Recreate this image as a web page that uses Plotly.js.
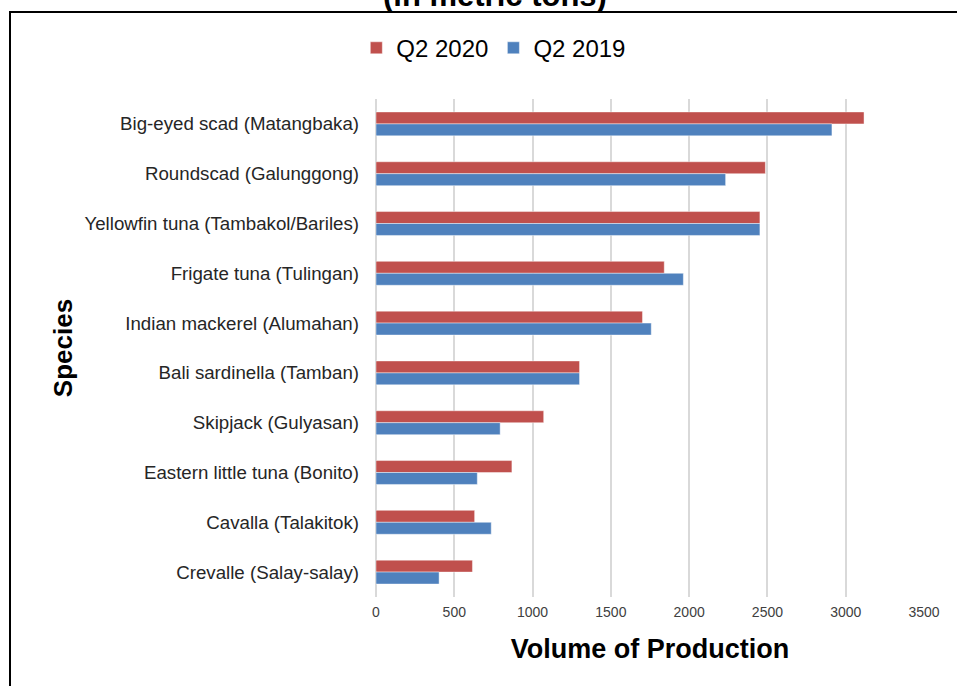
<!DOCTYPE html>
<html>
<head>
<meta charset="utf-8">
<script src="https://cdn.plot.ly/plotly-3.0.1.min.js"></script>
<style>
  html, body { margin: 0; padding: 0; background: #ffffff; }
  #chart { position: absolute; left: 0; top: 0; width: 957px; height: 686px; }
  #frame { position: absolute; left: 9px; top: 11px; width: 2000px; height: 2000px;
           border-left: 2px solid #000; border-top: 2px solid #000; pointer-events: none; }
  #wrap { position: relative; width: 957px; height: 686px; overflow: hidden; }
</style>
</head>
<body>
<div id="wrap">
  <div id="chart"></div>
  <div id="frame"></div>
</div>
<script>
const species = [
  "Big-eyed scad (Matangbaka)",
  "Roundscad (Galunggong)",
  "Yellowfin tuna (Tambakol/Bariles)",
  "Frigate tuna (Tulingan)",
  "Indian mackerel (Alumahan)",
  "Bali sardinella (Tamban)",
  "Skipjack (Gulyasan)",
  "Eastern little tuna (Bonito)",
  "Cavalla (Talakitok)",
  "Crevalle (Salay-salay)"
];
const q2_2020 = [3117, 2487, 2452, 1841, 1702, 1300, 1071, 868, 630, 616];
const q2_2019 = [2912, 2233, 2452, 1963, 1758, 1300, 793, 647, 736, 403];
const xTicks = [0, 500, 1000, 1500, 2000, 2500, 3000, 3500];

const traces = [
  {
    type: "bar", orientation: "h", name: "Q2 2020",
    y: species, x: q2_2020,
    marker: { color: "#C0504D", line: { color: "rgba(255,255,255,0.55)", width: 0.8 } },
    hoverinfo: "x+y"
  },
  {
    type: "bar", orientation: "h", name: "Q2 2019",
    y: species, x: q2_2019,
    marker: { color: "#4F81BD", line: { color: "rgba(255,255,255,0.55)", width: 0.8 } },
    hoverinfo: "x+y"
  }
];

const layout = {
  width: 957, height: 686,
  margin: { l: 376, r: 33, t: 99, b: 89, pad: 0 },
  paper_bgcolor: "#ffffff",
  plot_bgcolor: "#ffffff",
  font: { family: "Liberation Sans, Arial, sans-serif", color: "#404040" },
  barmode: "group",
  bargap: 0.52,
  bargroupgap: 0,
  showlegend: true,
  legend: {
    orientation: "h",
    x: 0.215, xanchor: "center",
    y: 1.102, yanchor: "middle", yref: "paper",
    font: { size: 24, color: "#000000", family: "Liberation Sans, Arial, sans-serif" },
    traceorder: "normal",
    itemwidth: 30,
    bgcolor: "rgba(0,0,0,0)"
  },
  xaxis: {
    range: [0, 3500],
    tickvals: xTicks,
    ticktext: xTicks.map(String),
    showgrid: true,
    gridcolor: "#D9D9D9",
    gridwidth: 2,
    zeroline: true,
    zerolinecolor: "#D9D9D9",
    zerolinewidth: 2,
    showline: false,
    ticks: "",
    ticklabelstandoff: 5,
    tickfont: { size: 14, color: "#404040" },
    title: { text: "<b>Volume of Production</b>", font: { size: 27, color: "#000000" }, standoff: 20 },
    fixedrange: true
  },
  yaxis: {
    type: "category",
    autorange: "reversed",
    showgrid: false,
    showline: false,
    zeroline: false,
    ticks: "",
    ticklabelstandoff: 16,
    tickfont: { size: 18.7, color: "#262626" },
    title: { text: "<b>Species</b>", font: { size: 26, color: "#000000" }, standoff: 4 },
    fixedrange: true
  },
  annotations: [
    {
      text: "<b>(in metric tons)</b>",
      xref: "paper", yref: "paper",
      x: 0.217, y: 1, xanchor: "center", yanchor: "middle",
      yshift: 104,
      showarrow: false,
      font: { size: 31, color: "#000000", family: "Liberation Sans, Arial, sans-serif" }
    }
  ]
};

Plotly.newPlot("chart", traces, layout, { displayModeBar: false, staticPlot: true });
</script>
</body>
</html>
